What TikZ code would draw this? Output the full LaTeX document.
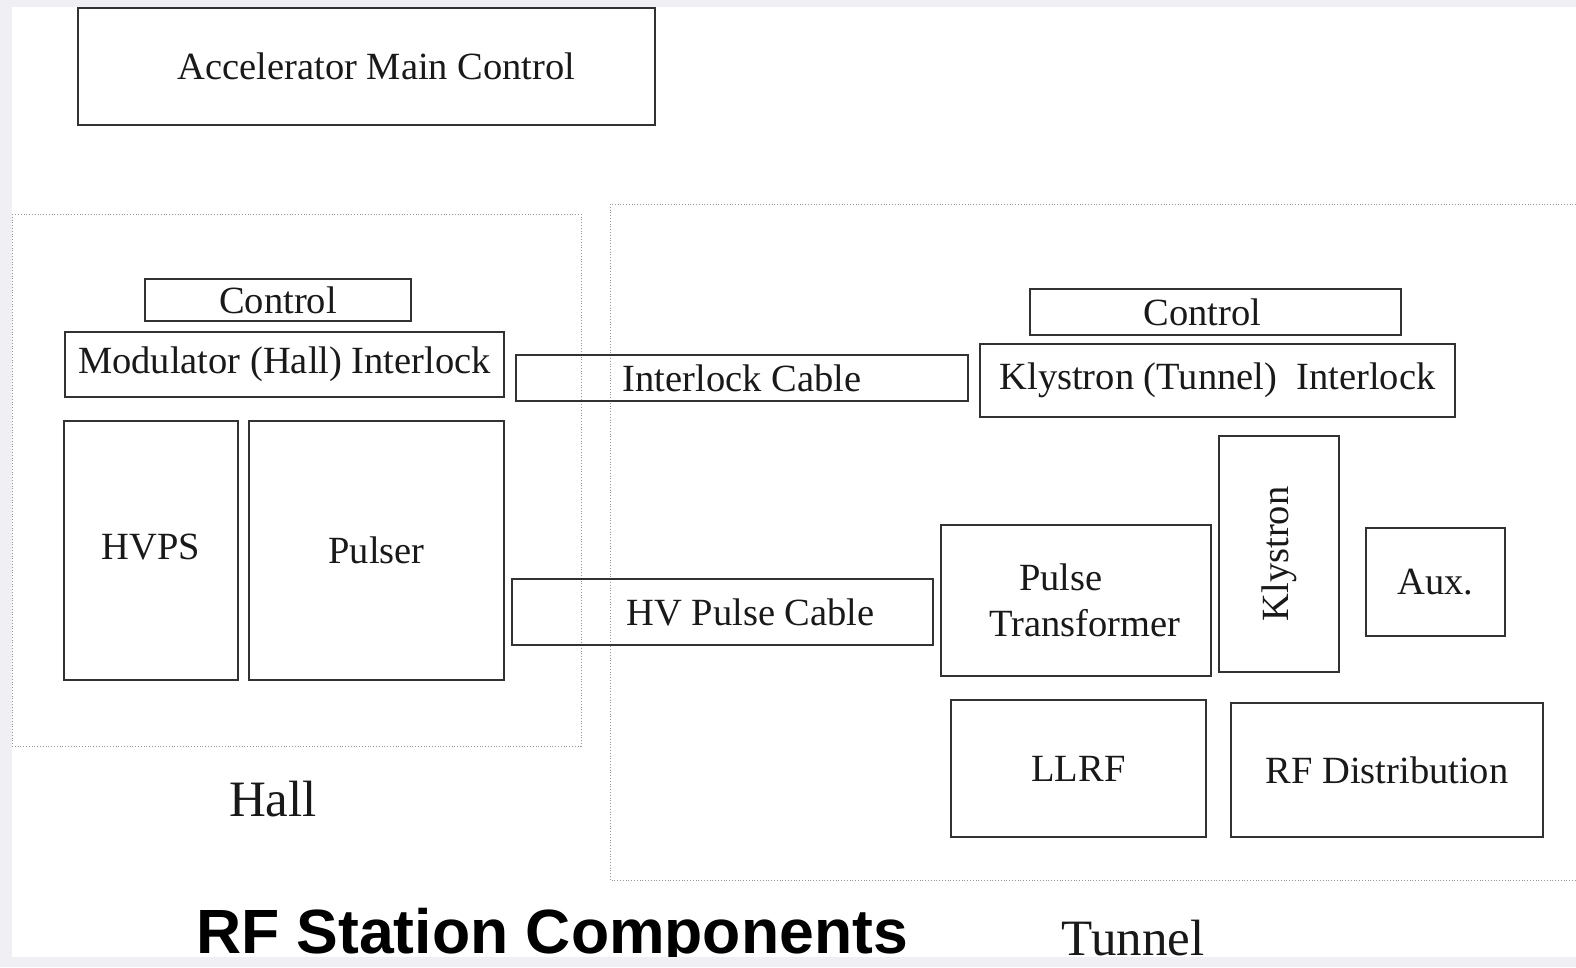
\documentclass[tikz,border=0pt]{standalone}
\usepackage{fontspec}
\setmainfont{Liberation Serif}
\newfontfamily\titlefont{Liberation Sans}
\usetikzlibrary{positioning}
\definecolor{fondGris}{RGB}{239,239,244}
\definecolor{traitBoite}{RGB}{50,50,50}
\definecolor{traitZone}{RGB}{150,150,150}
\newcommand{\boxfont}{\fontsize{38.5}{46}\selectfont}
\newcommand{\zonefont}{\fontsize{51}{60}\selectfont}

\begin{document}
\begin{tikzpicture}[x=1pt,y=-1pt,
  boite/.style={rectangle,draw=traitBoite,line width=1.3pt,inner sep=0pt,outer sep=0pt,
                font=\boxfont,text=black!90,align=center},
  zone/.style={draw=traitZone,dotted,line width=0.8pt},
  lieu/.style={font=\zonefont,text=black!90,anchor=base}]

  % page
  \useasboundingbox (0,0) rectangle (1576,967);
  \fill[fondGris] (0,0) rectangle (1576,967);
  \fill[white] (12,7) rectangle (1576,957);

  % zones
  \draw[zone] (12,214) rectangle (581,746);
  \draw[zone] (1576,204) -| (610,880) -- (1576,880);

  \node[boite,minimum width=577pt,minimum height=117pt] (AMC) at (366.5,66.5)
    {Accelerator Main Control\hspace*{-20pt}};

  % Hall
  \node[boite,minimum width=266pt,minimum height=42pt] (HCtrl) at (278,300) {Control};
  \node[boite,minimum width=439pt,minimum height=65pt] (HInt) at (284.5,364.5)
    {Modulator (Hall) Interlock};
  \node[boite,minimum width=174pt,minimum height=259pt] (HVPS) at (151,550.5)
    {\raisebox{8pt}{HVPS}};
  \node[boite,minimum width=255pt,minimum height=259pt] (Puls) at (376.5,550.5) {Pulser};

  % cables
  \node[boite,minimum width=452pt,minimum height=46pt] (ICab) at (742,378)
    {\raisebox{-5pt}{Interlock Cable}};
  \node[boite,minimum width=421pt,minimum height=66pt] (HVCab) at (722.5,612)
    {HV Pulse Cable\hspace*{-56pt}};

  % Tunnel
  \node[boite,minimum width=371pt,minimum height=46pt] (TCtrl) at (1215.5,312)
    {Control\hspace*{26pt}};
  \node[boite,minimum width=475pt,minimum height=73pt] (TInt) at (1217.5,380.5)
    {Klystron (Tunnel)~ Interlock};
  \node[boite,minimum width=236pt,minimum height=120pt,rotate=90] (Kly) at (1279,554)
    {Klystron};
  \node[boite,minimum width=270pt,minimum height=151pt] (PTr) at (1076,600.5)
    {\hspace*{-30pt}Pulse\\Transformer\hspace*{-18pt}};
  \node[boite,minimum width=139pt,minimum height=108pt] (Aux) at (1435.5,582) {Aux.};
  \node[boite,minimum width=255pt,minimum height=137pt] (LLRF) at (1078.5,768.5) {LLRF};
  \node[boite,minimum width=312pt,minimum height=134pt] (RFD) at (1387,770)
    {RF Distribution};

  % labels
  \node[lieu] (lHall) at (273,816) {Hall};
  \node[lieu] (lTun) at (1133,955) {Tunnel};
  \node[anchor=base,font=\titlefont\bfseries\fontsize{62.5}{72}\selectfont] (titre) at (552,953)
    {RF Station Components};

  \fill[fondGris] (0,957) rectangle (1576,967);
\end{tikzpicture}
\end{document}
